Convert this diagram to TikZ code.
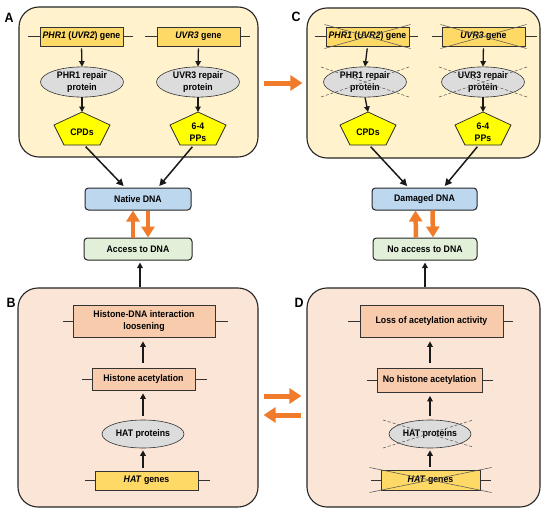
\documentclass[tikz,border=0pt]{standalone}
\usepackage{fontspec}
\setmainfont{Liberation Sans}[FakeStretch=0.92]
\usetikzlibrary{arrows.meta,shapes.geometric,calc}
\definecolor{panelY}{HTML}{FFF2CC}
\definecolor{panelO}{HTML}{FBE5D6}
\definecolor{geneY}{HTML}{FFD966}
\definecolor{protG}{HTML}{DCDCDC}
\definecolor{pentY}{HTML}{FFFF00}
\definecolor{dnaB}{HTML}{BDD7EE}
\definecolor{accG}{HTML}{E2F0D9}
\definecolor{boxO}{HTML}{F8CBAD}
\definecolor{arrO}{HTML}{F07B2A}
\tikzset{
  panel/.style={draw=black!85, line width=1.1pt, rounded corners=20pt, inner sep=0pt},
  genebox/.style={draw=black!80, line width=0.7pt, fill=geneY, minimum height=19pt, inner sep=0pt},
  stub/.style={draw=black!80, line width=0.8pt},
  prot/.style={ellipse, draw=black!80, line width=0.6pt, fill=protG, minimum width=83pt, minimum height=29pt, inner sep=0pt, align=center},
  pentst/.style={draw=black!85, line width=0.7pt, fill=pentY, line join=miter},
  dnabox/.style={draw=black!85, rounded corners=3.5pt, line width=1pt, minimum height=22pt, inner sep=0pt},
  obox/.style={draw=black!80, fill=boxO, line width=0.7pt, inner sep=0pt, align=center},
  arr/.style={-{Triangle[length=5.5pt,width=5.5pt]}, line width=1.3pt, draw=black!90},
  darr/.style={-{Triangle[length=7pt,width=7pt]}, line width=1.5pt, draw=black!90},
  bigarr/.style={-{Triangle[length=12pt,width=15pt]}, line width=5pt, draw=arrO},
  vbigarr/.style={-{Triangle[length=11pt,width=13pt]}, line width=4.5pt, draw=arrO},
  cross/.style={draw=black!65, line width=0.55pt},
  dcross/.style={draw=black!65, line width=0.55pt, dash pattern=on 3pt off 2pt},
  lbl/.style={font=\fontsize{13.5}{14}\selectfont\bfseries, inner sep=0pt}
}
\newcommand\stubs[3]{\draw[stub] (#1.west) -- ++(-#2,0) (#1.east) -- ++(#3,0);}
\newcommand\pent[3]{%
  \coordinate (#1) at (#2,#3);
  \draw[pentst] ($(#1)+(0,-17)$) -- ($(#1)+(28,-4)$) -- ($(#1)+(18,16)$) -- ($(#1)+(-18,16)$) -- ($(#1)+(-28,-4)$) -- cycle;
  \coordinate (#1top) at ($(#1)+(0,-17)$);
  \coordinate (#1bot) at ($(#1)+(0,17)$);}
\begin{document}
\begin{tikzpicture}[x=1pt,y=-1pt,font=\fontsize{9.5}{12.5}\selectfont\bfseries]
\useasboundingbox[fill=white] (0,0) rectangle (550,514);

% ---------- panels ----------
\node[panel, fill=panelY, minimum width=239pt, minimum height=150pt] (pA) at (138.5,82) {};
\node[panel, fill=panelY, minimum width=233pt, minimum height=150pt] (pC) at (423.5,83) {};
\node[panel, fill=panelO, minimum width=240pt, minimum height=219pt] (pB) at (138,397.5) {};
\node[panel, fill=panelO, minimum width=233pt, minimum height=219pt] (pD) at (423.5,397.5) {};
\node[lbl] (lA) at (9,18) {A};
\node[lbl] (lC) at (296,17) {C};
\node[lbl] (lB) at (11,303) {B};
\node[lbl] (lD) at (299,303) {D};

% ---------- panel A ----------
\node[genebox, minimum width=83pt] (g1) at (81.5,36.5) {\textit{PHR1} (\textit{UVR2}) gene};
\stubs{g1}{12}{10}
\node[genebox, minimum width=83pt] (g2) at (198.5,36.5) {\textit{UVR3} gene};
\stubs{g2}{12}{10}
\node[prot] (e1) at (82,82) {PHR1 repair\\protein};
\node[prot] (e2) at (198,82) {UVR3 repair\\protein};
\pent{p1}{82}{129}
\pent{p2}{198}{129}
\node[align=center, inner sep=0pt] (p1t) at ($(p1)+(0,3)$) {CPDs};
\node[align=center, inner sep=0pt] (p2t) at ($(p2)+(0,3)$) {6-4\\PPs};
\draw[arr, shorten <=2pt] (g1.south) -- (e1.north);
\draw[arr, shorten <=2pt] (g2.south) -- (e2.north);
\draw[arr] (e1.south) -- (p1top);
\draw[arr] (e2.south) -- (p2top);

% ---------- DNA boxes left ----------
\node[dnabox, fill=dnaB, minimum width=106pt] (dna1) at (138,199) {Native DNA};
\node[dnabox, fill=accG, minimum width=108pt] (acc1) at (138,249) {Access to DNA};
\draw[darr, shorten <=1pt, shorten >=2pt] ($(p1bot)+(3,0)$) -- ($(dna1.north)+(-13,0)$);
\draw[darr, shorten <=1pt, shorten >=2pt] ($(p2bot)+(-5,0)$) -- ($(dna1.north)+(20,0)$);
\draw[vbigarr] ($(acc1.north)+(-5,0)$) -- ($(dna1.south)+(-5,0)$);
\draw[vbigarr] ($(dna1.south)+(10,0)$) -- ($(acc1.north)+(10,0)$);
\draw[arr, shorten >=2pt] ($(pB.north)+(2,0)$) -- ($(acc1.south)+(2,0)$);

% ---------- panel C ----------
\node[genebox, minimum width=83pt] (g3) at (367.5,36.5) {\textit{PHR1} (\textit{UVR2}) gene};
\stubs{g3}{11}{9}
\node[genebox, minimum width=83pt] (g4) at (483.5,36.5) {\textit{UVR3} gene};
\stubs{g4}{10}{12}
\draw[cross] ($(g3.center)+(-43,-12)$) -- ($(g3.center)+(43,12)$);
\draw[cross] ($(g3.center)+(-43,12)$) -- ($(g3.center)+(43,-12)$);
\draw[cross] ($(g4.center)+(-43,-12)$) -- ($(g4.center)+(43,12)$);
\draw[cross] ($(g4.center)+(-43,12)$) -- ($(g4.center)+(43,-12)$);
\node[prot] (e3) at (365,82) {PHR1 repair\\protein};
\node[prot] (e4) at (483,82) {UVR3 repair\\protein};
\draw[dcross] ($(e3.center)+(-44,-15)$) -- ($(e3.center)+(44,15)$);
\draw[dcross] ($(e3.center)+(-44,15)$) -- ($(e3.center)+(44,-15)$);
\draw[dcross] ($(e4.center)+(-44,-15)$) -- ($(e4.center)+(44,15)$);
\draw[dcross] ($(e4.center)+(-44,15)$) -- ($(e4.center)+(44,-15)$);
\pent{p3}{368}{129}
\pent{p4}{483}{129}
\node[align=center, inner sep=0pt] (p3t) at ($(p3)+(0,3)$) {CPDs};
\node[align=center, inner sep=0pt] (p4t) at ($(p4)+(0,3)$) {6-4\\PPs};
\draw[arr, shorten <=2pt] (g3.south) -- (e3.north);
\draw[arr, shorten <=2pt] (g4.south) -- (e4.north);
\draw[arr] (e3.south) -- (p3top);
\draw[arr] (e4.south) -- (p4top);

% ---------- DNA boxes right ----------
\node[dnabox, fill=dnaB, minimum width=105pt] (dna2) at (424.5,199) {Damaged DNA};
\node[dnabox, fill=accG, minimum width=104pt] (acc2) at (425,249) {No access to DNA};
\draw[darr, shorten <=1pt, shorten >=2pt] ($(p3bot)+(2,0)$) -- ($(dna2.north)+(-16,0)$);
\draw[darr, shorten <=1pt, shorten >=2pt] ($(p4bot)+(-5,0)$) -- ($(dna2.north)+(19,0)$);
\draw[vbigarr] ($(acc2.north)+(-9,0)$) -- ($(dna2.south)+(-9,0)$);
\draw[vbigarr] ($(dna2.south)+(8,0)$) -- ($(acc2.north)+(8,0)$);
\draw[arr, shorten >=2pt] ($(pD.north)+(1.5,0)$) -- ($(acc2.south)+(0,0)$);

% ---------- panel B ----------
\node[obox, minimum width=142pt, minimum height=32pt] (h1) at (144,321) {Histone-DNA interaction\\loosening};
\stubs{h1}{10}{13}
\node[obox, minimum width=103pt, minimum height=22pt] (h2) at (143.5,379) {Histone acetylation};
\stubs{h2}{10}{12}
\node[prot, minimum width=82pt, minimum height=28pt] (h3) at (143,434) {HAT proteins};
\node[genebox, minimum width=103pt] (h4) at (146.5,480.5) {\textit{HAT} genes};
\stubs{h4}{10}{12}
\draw[arr, shorten <=3pt, shorten >=2pt] (h4.north -| h3.south) -- (h3.south);
\draw[arr, shorten <=4pt, shorten >=3pt] (h3.north) -- (h3.north |- h2.south);
\draw[arr, shorten <=5pt, shorten >=4pt] (h3.north |- h2.north) -- (h3.north |- h1.south);

% ---------- panel D ----------
\node[obox, minimum width=143pt, minimum height=32pt] (d1) at (431.5,321) {Loss of acetylation activity};
\stubs{d1}{12}{10}
\node[obox, minimum width=105pt, minimum height=24pt] (d2) at (429.5,380.5) {No histone acetylation};
\stubs{d2}{10}{11}
\node[prot, minimum width=82pt, minimum height=28pt] (d3) at (430,434) {HAT proteins};
\draw[dcross] ($(d3.center)+(-47,-14)$) -- ($(d3.center)+(43,13)$);
\draw[dcross] ($(d3.center)+(-47,14)$) -- ($(d3.center)+(43,-14)$);
\node[genebox, minimum width=99pt, minimum height=20pt] (d4) at (430.5,480) {\textit{HAT} genes};
\stubs{d4}{10}{11}
\draw[cross] ($(d4.center)+(-61,-12.5)$) -- ($(d4.center)+(61,12.5)$);
\draw[cross] ($(d4.center)+(-61,12.5)$) -- ($(d4.center)+(61,-12.5)$);
\draw[arr, shorten <=3pt, shorten >=2pt] (d4.north -| d3.south) -- (d3.south);
\draw[arr, shorten <=4pt, shorten >=3pt] (d3.north) -- (d3.north |- d2.south);
\draw[arr, shorten <=5pt, shorten >=4pt] (d3.north |- d2.north) -- (d3.north |- d1.south);

% ---------- orange arrows between panels ----------
\draw[bigarr] ($(pA.east)+(5,1)$) -- ($(pC.west)+(-4,0)$);
\draw[bigarr] ($(pB.east)+(5,-1.5)$) -- ($(pD.west)+(-5,-1.5)$);
\draw[bigarr] ($(pD.west)+(-5,17.5)$) -- ($(pB.east)+(5,17.5)$);
\end{tikzpicture}
\end{document}
